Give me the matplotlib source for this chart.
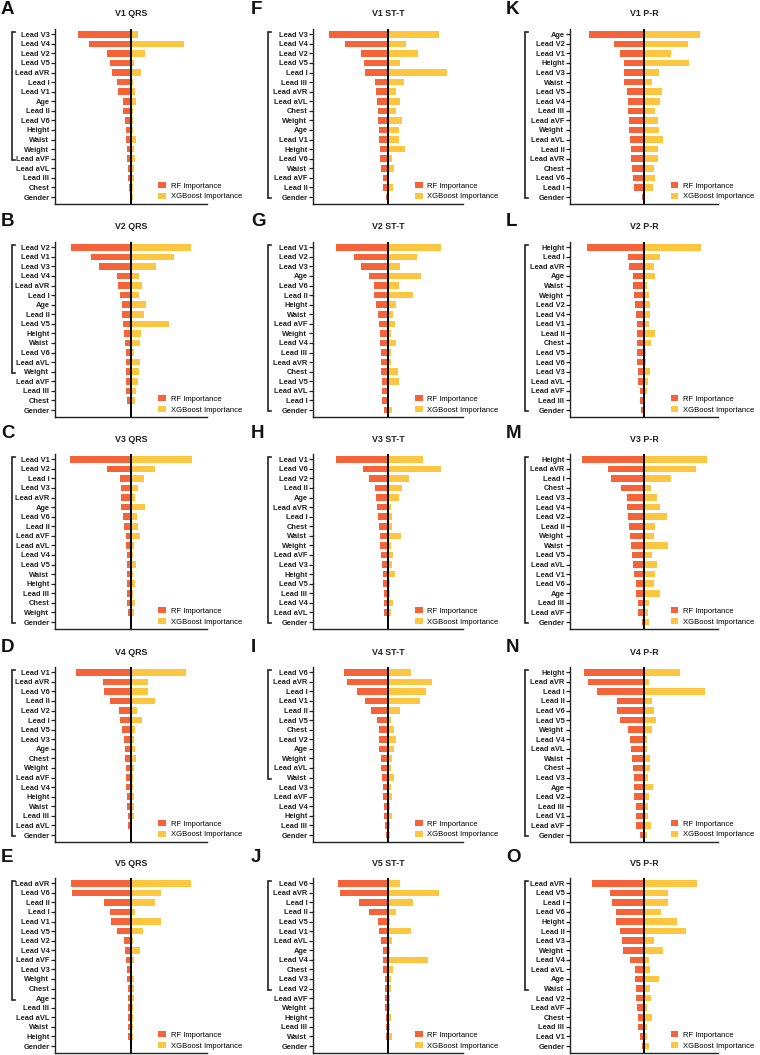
import matplotlib
matplotlib.use("Agg")
import matplotlib.pyplot as plt
import matplotlib.transforms as mtransforms
from matplotlib.patches import Patch

plt.rcParams['font.family'] = ['Liberation Sans', 'DejaVu Sans']

RF_COLOR = '#F5633B'
XGB_COLOR = '#FDC640'

# ---------------- data (relative importance) ----------------
labels_A = ["Lead V3", "Lead V4", "Lead V2", "Lead V5", "Lead aVR", "Lead I", "Lead V1", "Age", "Lead II",
            "Lead V6", "Height", "Waist", "Weight", "Lead aVF", "Lead aVL", "Lead III", "Chest", "Gender"]
rf_A = [0.70, 0.55, 0.31, 0.27, 0.25, 0.18, 0.17, 0.11, 0.10, 0.08, 0.07, 0.06, 0.05, 0.05, 0.045, 0.04, 0.03, 0.01]
xgb_A = [0.09, 0.70, 0.18, 0.04, 0.13, 0.03, 0.05, 0.07, 0.03, 0.03, 0.02, 0.07, 0.035, 0.05, 0.045, 0.045, 0.02, 0.02]

labels_B = ["Lead V2", "Lead V1", "Lead V3", "Lead V4", "Lead aVR", "Lead I", "Age", "Lead II", "Lead V5",
            "Height", "Waist", "Lead V6", "Lead aVL", "Weight", "Lead aVF", "Lead III", "Chest", "Gender"]
rf_B = [0.79, 0.53, 0.42, 0.19, 0.175, 0.145, 0.12, 0.115, 0.105, 0.09, 0.08, 0.07, 0.07, 0.07, 0.07, 0.065, 0.05, 0.003]
xgb_B = [0.79, 0.56, 0.33, 0.11, 0.145, 0.10, 0.20, 0.17, 0.50, 0.13, 0.12, 0.04, 0.12, 0.11, 0.09, 0.06, 0.05, 0.003]

labels_C = ["Lead V1", "Lead V2", "Lead I", "Lead V3", "Lead aVR", "Age", "Lead V6", "Lead II", "Lead aVF",
            "Lead aVL", "Lead V4", "Lead V5", "Waist", "Height", "Lead III", "Chest", "Weight", "Gender"]
rf_C = [0.80, 0.31, 0.14, 0.135, 0.127, 0.127, 0.105, 0.09, 0.066, 0.066, 0.057, 0.057, 0.057, 0.053, 0.048, 0.048, 0.044, 0.003]
xgb_C = [0.80, 0.32, 0.175, 0.09, 0.05, 0.185, 0.08, 0.09, 0.12, 0.035, 0.03, 0.06, 0.02, 0.05, 0.02, 0.048, 0.044, 0.003]

labels_D = ["Lead V1", "Lead aVR", "Lead V6", "Lead II", "Lead V2", "Lead I", "Lead V5", "Lead V3", "Age",
            "Chest", "Weight", "Lead aVF", "Lead V4", "Height", "Waist", "Lead III", "Lead aVL", "Gender"]
rf_D = [0.72, 0.37, 0.36, 0.27, 0.16, 0.14, 0.12, 0.09, 0.08, 0.075, 0.07, 0.066, 0.06, 0.053, 0.053, 0.044, 0.044, 0.003]
xgb_D = [0.72, 0.23, 0.22, 0.32, 0.08, 0.145, 0.05, 0.035, 0.05, 0.06, 0.04, 0.022, 0.026, 0.044, 0.035, 0.04, 0.018, 0.003]

labels_E = ["Lead aVR", "Lead V6", "Lead II", "Lead I", "Lead V1", "Lead V5", "Lead V2", "Lead V4", "Lead aVF",
            "Lead V3", "Weight", "Chest", "Age", "Lead III", "Lead aVL", "Waist", "Height", "Gender"]
rf_E = [0.79, 0.77, 0.355, 0.27, 0.26, 0.185, 0.09, 0.075, 0.066, 0.057, 0.048, 0.044, 0.04, 0.04, 0.04, 0.04, 0.035, 0.003]
xgb_E = [0.79, 0.40, 0.32, 0.057, 0.40, 0.16, 0.022, 0.12, 0.035, 0.013, 0.035, 0.04, 0.035, 0.022, 0.026, 0.022, 0.03, 0.003]

labels_F = ["Lead V3", "Lead V4", "Lead V2", "Lead V5", "Lead I", "Lead III", "Lead aVR", "Lead aVL", "Chest",
            "Weight", "Age", "Lead V1", "Height", "Lead V6", "Waist", "Lead aVF", "Lead II", "Gender"]
rf_F = [0.79, 0.57, 0.36, 0.32, 0.31, 0.18, 0.155, 0.15, 0.133, 0.13, 0.125, 0.12, 0.11, 0.107, 0.093, 0.07, 0.067, 0.022]
xgb_F = [0.68, 0.24, 0.40, 0.16, 0.79, 0.21, 0.11, 0.165, 0.107, 0.19, 0.14, 0.147, 0.22, 0.058, 0.084, 0.01, 0.07, 0.003]

labels_G = ["Lead V1", "Lead V2", "Lead V3", "Age", "Lead V6", "Lead II", "Height", "Waist", "Lead aVF",
            "Weight", "Lead V4", "Lead III", "Lead aVR", "Chest", "Lead V5", "Lead aVL", "Lead I", "Gender"]
rf_G = [0.69, 0.45, 0.36, 0.25, 0.19, 0.19, 0.164, 0.13, 0.12, 0.11, 0.11, 0.10, 0.093, 0.093, 0.084, 0.076, 0.076, 0.058]
xgb_G = [0.70, 0.39, 0.156, 0.435, 0.147, 0.33, 0.11, 0.062, 0.093, 0.04, 0.107, 0.036, 0.036, 0.138, 0.142, 0.005, 0.005, 0.05]

labels_H = ["Lead V1", "Lead V6", "Lead V2", "Lead II", "Age", "Lead aVR", "Lead I", "Chest", "Waist",
            "Weight", "Lead aVF", "Lead V3", "Height", "Lead V5", "Lead III", "Lead V4", "Lead aVL", "Gender"]
rf_H = [0.70, 0.33, 0.25, 0.18, 0.16, 0.147, 0.133, 0.12, 0.11, 0.107, 0.098, 0.084, 0.067, 0.062, 0.058, 0.053, 0.053, 0.003]
xgb_H = [0.46, 0.71, 0.275, 0.19, 0.142, 0.04, 0.053, 0.049, 0.178, 0.04, 0.067, 0.053, 0.089, 0.022, 0.022, 0.067, 0.04, 0.003]

labels_I = ["Lead V6", "Lead aVR", "Lead I", "Lead V1", "Lead II", "Lead V5", "Chest", "Lead V2", "Age",
            "Weight", "Lead aVL", "Waist", "Lead V3", "Lead aVF", "Lead V4", "Height", "Lead III", "Gender"]
rf_I = [0.59, 0.55, 0.41, 0.31, 0.23, 0.15, 0.12, 0.12, 0.12, 0.098, 0.093, 0.076, 0.071, 0.062, 0.053, 0.049, 0.04, 0.022]
xgb_I = [0.31, 0.59, 0.50, 0.43, 0.16, 0.044, 0.08, 0.107, 0.08, 0.053, 0.044, 0.084, 0.036, 0.049, 0.027, 0.049, 0.022, 0.031]

labels_J = ["Lead V6", "Lead aVR", "Lead I", "Lead II", "Lead V5", "Lead V1", "Lead aVL", "Age", "Lead V4",
            "Chest", "Lead V3", "Lead V2", "Lead aVF", "Weight", "Height", "Lead III", "Waist", "Gender"]
rf_J = [0.67, 0.64, 0.39, 0.26, 0.14, 0.115, 0.093, 0.071, 0.071, 0.062, 0.044, 0.044, 0.036, 0.036, 0.031, 0.027, 0.027, 0.003]
xgb_J = [0.165, 0.68, 0.33, 0.11, 0.027, 0.30, 0.053, 0.027, 0.53, 0.067, 0.04, 0.036, 0.027, 0.031, 0.036, 0.022, 0.049, 0.003]

labels_K = ["Age", "Lead V2", "Lead V1", "Height", "Lead V3", "Waist", "Lead V5", "Lead V4", "Lead III",
            "Lead aVF", "Weight", "Lead aVL", "Lead II", "Lead aVR", "Chest", "Lead V6", "Lead I", "Gender"]
rf_K = [0.75, 0.40, 0.32, 0.27, 0.265, 0.265, 0.224, 0.215, 0.215, 0.206, 0.20, 0.19, 0.18, 0.17, 0.16, 0.15, 0.13, 0.03]
xgb_K = [0.76, 0.60, 0.37, 0.61, 0.20, 0.11, 0.24, 0.215, 0.15, 0.19, 0.20, 0.25, 0.19, 0.19, 0.135, 0.15, 0.125, 0.003]

labels_L = ["Height", "Lead I", "Lead aVR", "Age", "Waist", "Weight", "Lead V2", "Lead V4", "Lead V1",
            "Lead II", "Chest", "Lead V5", "Lead V6", "Lead V3", "Lead aVL", "Lead aVF", "Lead III", "Gender"]
rf_L = [0.77, 0.22, 0.20, 0.15, 0.15, 0.13, 0.12, 0.11, 0.10, 0.10, 0.094, 0.094, 0.09, 0.085, 0.08, 0.058, 0.054, 0.036]
xgb_L = [0.77, 0.21, 0.135, 0.15, 0.036, 0.072, 0.08, 0.08, 0.067, 0.143, 0.094, 0.031, 0.031, 0.085, 0.049, 0.04, 0.018, 0.003]

labels_M = ["Height", "Lead aVR", "Lead I", "Chest", "Lead V3", "Lead V4", "Lead V2", "Lead II", "Weight",
            "Waist", "Lead V5", "Lead aVL", "Lead V1", "Lead V6", "Age", "Lead III", "Lead aVF", "Gender"]
rf_M = [0.84, 0.49, 0.44, 0.315, 0.23, 0.225, 0.21, 0.207, 0.19, 0.176, 0.167, 0.153, 0.13, 0.113, 0.113, 0.086, 0.08, 0.03]
xgb_M = [0.85, 0.70, 0.36, 0.09, 0.175, 0.22, 0.31, 0.153, 0.13, 0.33, 0.108, 0.175, 0.153, 0.13, 0.21, 0.063, 0.054, 0.063]

labels_N = ["Height", "Lead aVR", "Lead I", "Lead II", "Lead V6", "Lead V5", "Weight", "Lead V4", "Lead aVL",
            "Waist", "Chest", "Lead V3", "Age", "Lead V2", "Lead III", "Lead V1", "Lead aVF", "Gender"]
rf_N = [0.815, 0.76, 0.64, 0.365, 0.36, 0.32, 0.22, 0.194, 0.18, 0.167, 0.144, 0.14, 0.13, 0.13, 0.113, 0.113, 0.104, 0.05]
xgb_N = [0.48, 0.072, 0.83, 0.113, 0.13, 0.158, 0.108, 0.04, 0.045, 0.086, 0.086, 0.05, 0.12, 0.072, 0.05, 0.05, 0.09, 0.036]

labels_O = ["Lead aVR", "Lead V5", "Lead I", "Lead V6", "Height", "Lead II", "Lead V3", "Weight", "Lead V4",
            "Lead aVL", "Age", "Waist", "Lead V2", "Lead aVF", "Chest", "Lead III", "Lead V1", "Gender"]
rf_O = [0.70, 0.455, 0.43, 0.38, 0.38, 0.33, 0.30, 0.29, 0.19, 0.126, 0.12, 0.113, 0.104, 0.09, 0.086, 0.077, 0.059, 0.03]
xgb_O = [0.71, 0.32, 0.33, 0.225, 0.45, 0.57, 0.135, 0.26, 0.063, 0.086, 0.20, 0.077, 0.10, 0.045, 0.108, 0.045, 0.045, 0.063]

titles = ["V1 QRS", "V2 QRS", "V3 QRS", "V4 QRS", "V5 QRS",
          "V1 ST-T", "V2 ST-T", "V3 ST-T", "V4 ST-T", "V5 ST-T",
          "V1 P-R", "V2 P-R", "V3 P-R", "V4 P-R", "V5 P-R"]
letters = list("ABCDEFGHIJKLMNO")
bracket_counts = [14, 14, 18, 18, 13, 18, 18, 18, 12, 12, 18, 18, 18, 18, 12]

panels = [
    (labels_A, rf_A, xgb_A), (labels_B, rf_B, xgb_B), (labels_C, rf_C, xgb_C),
    (labels_D, rf_D, xgb_D), (labels_E, rf_E, xgb_E), (labels_F, rf_F, xgb_F),
    (labels_G, rf_G, xgb_G), (labels_H, rf_H, xgb_H), (labels_I, rf_I, xgb_I),
    (labels_J, rf_J, xgb_J), (labels_K, rf_K, xgb_K), (labels_L, rf_L, xgb_L),
    (labels_M, rf_M, xgb_M), (labels_N, rf_N, xgb_N), (labels_O, rf_O, xgb_O),
]

# ---------------- layout ----------------
W, H = 760, 1055
fig = plt.figure(figsize=(W / 100, H / 100), dpi=100)

col_left = [55, 313, 570]
col_width = [152, 150, 148]
col_off = [0, 250, 505]
bracket_px = [12, 268, 525]
row_top = [29, 242, 454, 667, 878]
ax_h = 175

for idx, (labels, rf, xgb) in enumerate(panels):
    c, r = idx // 5, idx % 5
    left = col_left[c] / W
    bottom = 1 - (row_top[r] + ax_h) / H
    ax = fig.add_axes([left, bottom, col_width[c] / W, ax_h / H])
    y = list(range(len(labels)))
    ax.barh(y, [-v for v in rf], height=0.68, color=RF_COLOR, zorder=2)
    ax.barh(y, xgb, height=0.68, color=XGB_COLOR, zorder=2)
    ax.axvline(0, color='black', lw=1.4, zorder=3)
    ax.set_xlim(-1, 1)
    ax.set_ylim(17.73, -0.55)
    ax.set_yticks(y)
    ax.set_yticklabels(labels, fontsize=5.4, fontweight='bold')
    ax.set_xticks([])
    for s in ['top', 'right']:
        ax.spines[s].set_visible(False)
    for s in ['left', 'bottom']:
        ax.spines[s].set_linewidth(1.0)
        ax.spines[s].set_color('#222222')
    ax.tick_params(axis='y', length=3, width=0.9, pad=1, colors='#222222')

    ax.text(0.5, 1 + 15 / ax_h, titles[idx], transform=ax.transAxes, ha='center', va='center',
            fontsize=6.4, fontweight='bold', color='#222222')

    fig.text((col_off[c] + 1) / W, 1 - (row_top[r] - 20) / H, letters[idx], ha='left', va='center',
             fontsize=13.5, fontweight='bold', color='#111111')

    # bracket
    trans = mtransforms.blended_transform_factory(ax.transAxes, ax.transData)
    bx = (bracket_px[c] - col_left[c]) / col_width[c]
    tick = 3 / col_width[c]
    k = bracket_counts[idx]
    y0, y1 = -0.22, k - 1 + 0.15
    ax.plot([bx + tick, bx, bx, bx + tick], [y0, y0, y1, y1], transform=trans, clip_on=False,
            color='#222222', lw=1.2, solid_joinstyle='miter')

    handles = [Patch(facecolor=RF_COLOR, edgecolor='none', label='RF Importance'),
               Patch(facecolor=XGB_COLOR, edgecolor='none', label='XGBoost Importance')]
    ax.legend(handles=handles, loc='lower left', bbox_to_anchor=(0.68, 0.02), frameon=False,
              fontsize=5.5, handlelength=1.0, handleheight=0.75, handletextpad=0.6,
              borderpad=0, borderaxespad=0, labelspacing=0.45)

fig.savefig('out.png', dpi=100)
